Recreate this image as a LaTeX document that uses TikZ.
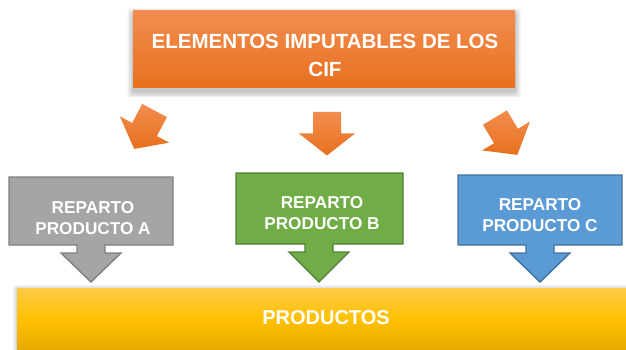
\documentclass[tikz,border=0pt]{standalone}
\usepackage{fontspec}
\setmainfont{Liberation Sans}
\definecolor{orTop}{RGB}{242,141,80}
\definecolor{orBot}{RGB}{232,112,30}
\definecolor{grFill}{RGB}{165,165,165}
\definecolor{grLine}{RGB}{128,128,128}
\definecolor{gnFill}{RGB}{112,173,71}
\definecolor{gnLine}{RGB}{80,126,50}
\definecolor{blFill}{RGB}{91,155,213}
\definecolor{blLine}{RGB}{65,113,156}
\definecolor{yeTop}{RGB}{255,202,70}
\definecolor{yeMid}{RGB}{255,192,0}
\definecolor{yeBot}{RGB}{228,168,0}
\tikzset{
  txt/.style={text=white,font=\bfseries,align=center,inner sep=0pt},
  callout/.style={line width=1.4pt,line join=miter},
  orarrow/.style={top color=orTop,bottom color=orBot,draw=none},
  softshade/.style={fill=black,opacity=0.06,rounded corners=3pt},
}
\begin{document}
\begin{tikzpicture}[x=1pt,y=-1pt]
\useasboundingbox (0,0) rectangle (626,350);
% soft shadow of top box
\foreach \e in {1,2.5,4,5.5}{
  \fill[softshade] (133-\e,14-\e) rectangle (515+\e,92+\e);
}
% top box
\node[draw=none,top color=orTop,bottom color=orBot,
      minimum width=382pt,minimum height=77pt,inner sep=0pt] (top) at (324,49.5) {};
\node[txt,font=\bfseries\fontsize{20.5}{28}\selectfont] (toptxt) at (325,55) {ELEMENTOS IMPUTABLES DE LOS\\CIF};
% orange arrows
\foreach \nm/\cx/\cy/\ang in {aL/144.5/129.5/-28, aM/327/133.5/0, aR/506/136/31}{
  \begin{scope}[shift={(\cx,\cy)},rotate=\ang]
    \path[orarrow] (-14,-21.5) -- (14,-21.5) -- (14,0) -- (28,0) -- (0,22) -- (-28,0) -- (-14,0) -- cycle;
    \coordinate (\nm) at (0,0);
  \end{scope}
}
% soft shadow of bar
\foreach \e in {1,2.5,4}{
  \fill[softshade] (17-\e,289-\e) rectangle (640,360);
}
% bottom bar
\node[draw=none,top color=yeTop,bottom color=yeBot,middle color=yeMid,
      minimum width=620pt,minimum height=64pt,inner sep=0pt,anchor=north west] (bar) at (17,288) {};
\node[txt,font=\bfseries\fontsize{20}{24}\selectfont] (bartxt) at (326,318) {PRODUCTOS};
% callouts
\draw[callout,fill=grFill,draw=grLine] (9,177) -- (173,177) -- (173,245) -- (105,245) -- (105,253) -- (121,253) -- (91,282) -- (61,253) -- (77,253) -- (77,245) -- (9,245) -- cycle;
\draw[callout,fill=gnFill,draw=gnLine] (236,173) -- (403,173) -- (403,244) -- (333,244) -- (333,252) -- (349,252) -- (319,282) -- (289,252) -- (305,252) -- (305,244) -- (236,244) -- cycle;
\draw[callout,fill=blFill,draw=blLine] (458,175) -- (622,175) -- (622,245) -- (554,245) -- (554,253) -- (570,253) -- (540,282) -- (510,253) -- (526,253) -- (526,245) -- (458,245) -- cycle;
\node[txt,font=\bfseries\fontsize{17.2}{20.5}\selectfont] (ca) at (93,218) {REPARTO\\PRODUCTO A};
\node[txt,font=\bfseries\fontsize{17.2}{20.5}\selectfont] (cb) at (322,213) {REPARTO\\PRODUCTO B};
\node[txt,font=\bfseries\fontsize{17.2}{20.5}\selectfont] (cc) at (540,215) {REPARTO\\PRODUCTO C};
\end{tikzpicture}
\end{document}
